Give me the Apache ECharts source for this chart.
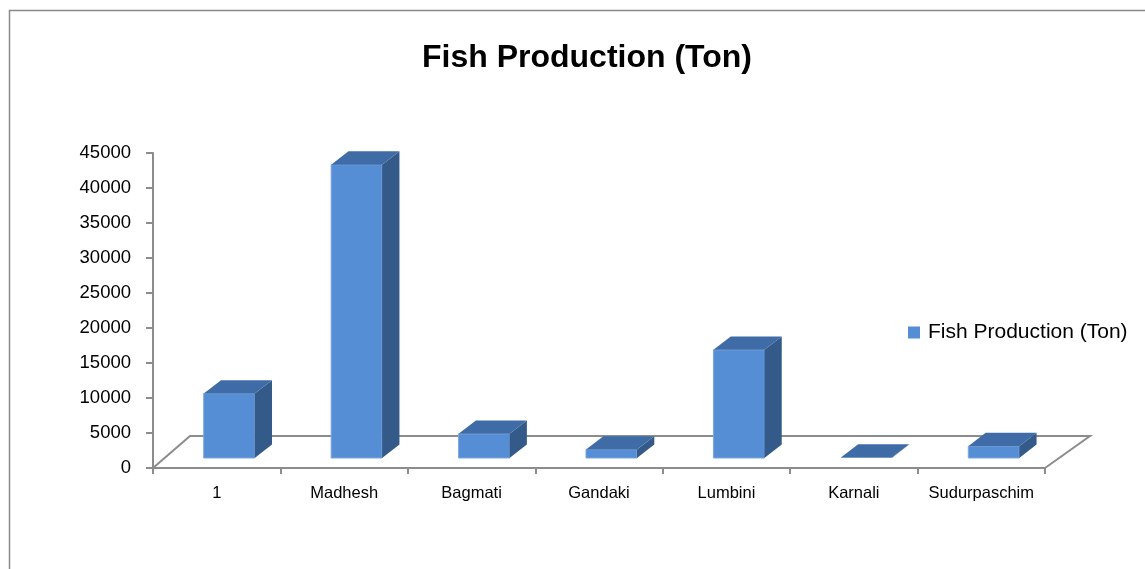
<!DOCTYPE html>
<html>
<head>
<meta charset="utf-8">
<script src="https://cdn.jsdelivr.net/npm/echarts@6/dist/echarts.min.js"></script>
<style>html,body{margin:0;padding:0;background:#fff;}#c{width:1145px;height:569px;}</style>
</head>
<body>
<div id="c"></div>
<script>
const categories = ['1', 'Madhesh', 'Bagmati', 'Gandaki', 'Lumbini', 'Karnali', 'Sudurpaschim'];
const fishProduction = [9200, 41900, 3450, 1200, 15450, 60, 1680];
const seriesName = 'Fish Production (Ton)';
const yTicks = { min: 0, max: 45000, interval: 5000 };

const FRONT = '#558ED5', TOP = '#3F6CA6', SIDE = '#345A8A', AXIS = '#8c8c8c';
const FONT = 'Liberation Sans';

const chart = echarts.init(document.getElementById('c'));

function renderBar(params, api) {
  const idx = api.value(0), v = api.value(1);
  const p0 = api.coord([idx, 0]);
  const p1 = api.coord([idx, v]);
  const band = api.size([1, 0])[0];
  const w = band * 0.40, ox = band * 0.098, dx = band * 0.136, dy = 13.4, lift = 10;
  const h = p0[1] - p1[1];
  const x = p0[0] + ox - w / 2;
  const yb = p0[1] - lift, yt = yb - h;
  return {
    type: 'group',
    children: [
      { type: 'rect', shape: { x: x, y: yt, width: w, height: h }, style: { fill: FRONT, stroke: h > 2 ? '#7da6e0' : null, lineWidth: 1 } },
      { type: 'polygon', shape: { points: [[x + w, yt], [x + w + dx, yt - dy], [x + w + dx, yb - dy], [x + w, yb]] }, style: { fill: SIDE } },
      { type: 'polygon', shape: { points: [[x, yt], [x + dx, yt - dy], [x + w + dx, yt - dy], [x + w, yt]] }, style: { fill: TOP } }
    ]
  };
}

function renderFloor(params, api) {
  const band = api.size([1, 0])[0];
  const a = api.coord([0, 0]);
  const b = api.coord([categories.length - 1, 0]);
  const xl = a[0] - band / 2, xr = b[0] + band / 2, y0 = a[1];
  const depth = 32;
  return {
    type: 'polyline',
    shape: { points: [[xl, y0], [xl + 37, y0 - depth], [xr + 45, y0 - depth], [xr, y0]] },
    style: { stroke: AXIS, lineWidth: 2, fill: null }
  };
}

chart.setOption({
  animation: false,
  backgroundColor: '#fff',
  graphic: [{
    type: 'rect', left: 7, top: 8, shape: { width: 1200, height: 620 },
    style: { fill: null, stroke: '#8a8a8a', lineWidth: 1.5 }, silent: true, z: -10
  }],
  title: {
    text: 'Fish Production (Ton)',
    left: 582, top: 37, textAlign: 'center',
    textStyle: { fontFamily: FONT, fontSize: 32, fontWeight: 'bold', color: '#000' }
  },
  legend: {
    data: [seriesName],
    left: 903, top: 317,
    icon: 'rect', itemWidth: 12, itemHeight: 12,
    textStyle: { fontFamily: FONT, fontSize: 21, color: '#000', padding: [0, 0, 0, 3] }
  },
  grid: { left: 153, top: 153, right: 100, bottom: 101 },
  xAxis: {
    type: 'category', data: categories, boundaryGap: true,
    axisLine: { show: true, lineStyle: { color: AXIS, width: 2 } },
    axisTick: { show: true, length: 6, alignWithLabel: false, lineStyle: { color: AXIS, width: 2 } },
    axisLabel: { fontFamily: FONT, fontSize: 16.5, color: '#000', margin: 17, interval: 0 },
    splitLine: { show: false }
  },
  yAxis: {
    type: 'value', min: yTicks.min, max: yTicks.max, interval: yTicks.interval,
    axisLine: { show: true, lineStyle: { color: AXIS, width: 2 } },
    axisTick: { show: true, length: 7, lineStyle: { color: AXIS, width: 2 } },
    axisLabel: { fontFamily: FONT, fontSize: 18.5, color: '#000', margin: 22, formatter: v => String(v) },
    splitLine: { show: false }
  },
  series: [
    {
      type: 'custom', name: 'floor', data: [[0, 0]], renderItem: renderFloor,
      encode: { x: 0, y: 1 }, z: 1, silent: true, clip: false
    },
    {
      type: 'custom', name: seriesName,
      data: fishProduction.map((v, i) => [i, v]),
      renderItem: renderBar, encode: { x: 0, y: 1 },
      itemStyle: { color: FRONT }, z: 2, clip: false
    }
  ]
});
</script>
</body>
</html>
